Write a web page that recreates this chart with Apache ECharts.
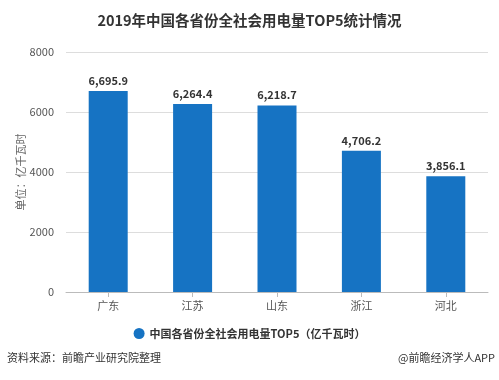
<!DOCTYPE html>
<html><head><meta charset="utf-8">
<script src="https://cdn.jsdelivr.net/npm/echarts@6/dist/echarts.min.js"></script>
<style>html,body{margin:0;padding:0;background:#fff}#c{width:499px;height:380px}</style>
</head><body><div id="c"></div>
<script>
const categories = ['广东','江苏','山东','浙江','河北'];
const values = [6695.9, 6264.4, 6218.7, 4706.2, 3856.1];
const yTicks = [0, 2000, 4000, 6000, 8000];
const seriesName = '中国各省份全社会用电量TOP5（亿千瓦时）';
const titleText = '2019年中国各省份全社会用电量TOP5统计情况';
const sourceText = '资料来源：前瞻产业研究院整理';
const creditText = '@前瞻经济学人APP';
const axisName = '单位：亿千瓦时';

const font = '"Noto Sans CJK SC","Microsoft YaHei",sans-serif';
const chart = echarts.init(document.getElementById('c'));
chart.setOption({
  animation:false,
  textStyle:{fontFamily:font},
  title:{text:titleText,left:'center',top:8,textStyle:{fontSize:14.5,fontWeight:'bold',color:'#333',fontFamily:font}},
  grid:{left:66,right:11,top:52,bottom:88},
  legend:{data:[seriesName],bottom:36,left:'center',icon:'circle',itemWidth:11,itemHeight:11,
    textStyle:{fontSize:11,fontWeight:'bold',color:'#333'}},
  xAxis:{type:'category',data:categories,
    axisLine:{lineStyle:{color:'#bbb'}},axisTick:{show:true,alignWithLabel:true,lineStyle:{color:'#bbb'}},
    axisLabel:{color:'#555',fontSize:11,margin:8}},
  yAxis:{type:'value',min:yTicks[0],max:yTicks[yTicks.length-1],interval:2000,
    name:axisName,nameLocation:'middle',nameGap:40,nameMoveOverlap:false,nameTextStyle:{color:'#666',fontSize:11},
    axisLine:{show:false},axisTick:{show:false},
    axisLabel:{color:'#555',fontSize:11,margin:12,formatter:v=>String(v)},
    splitLine:{lineStyle:{color:'#ddd'}}},
  series:[{name:seriesName,type:'bar',data:values,barWidth:39,
    itemStyle:{color:'#1673c3'},
    label:{show:true,position:'top',color:'#333',fontSize:11,fontWeight:'bold',
      formatter:p=>p.value.toLocaleString('en-US',{minimumFractionDigits:1,maximumFractionDigits:1})}}],
  graphic:[
    {type:'text',left:7,top:352,style:{text:sourceText,fontSize:11,fill:'#333',fontFamily:font}},
    {type:'text',right:4,top:352,style:{text:creditText,fontSize:11,fill:'#333',fontFamily:font}}
  ]
});
</script></body></html>
